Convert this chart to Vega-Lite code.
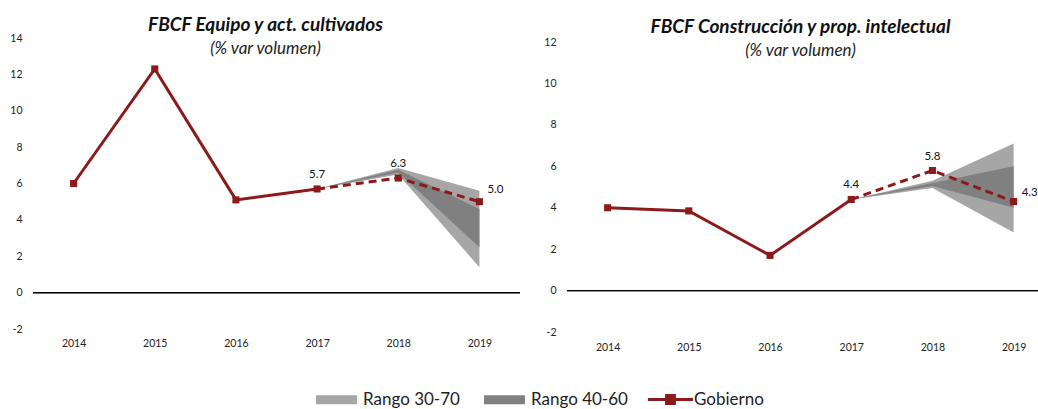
{
  "$schema": "https://vega.github.io/schema/vega-lite/v6.json",
  "background": "white",
  "padding": {"left": 9, "top": 16, "right": 0, "bottom": 0},
  "bounds": "flush",
  "spacing": 47,
  "config": {
    "view": {"stroke": null},
    "font": "Lato",
    "axis": {"labelFont": "Lato", "labelFontSize": 10.5, "labelColor": "#222222", "domain": false, "ticks": false, "grid": false, "title": null, "labelOverlap": false, "tickCount": 20}
  },
  "datasets": {
    "equipo": [
      {"year": 2014, "gob": 6.0, "lo30": null, "hi30": null, "lo40": null, "hi40": null},
      {"year": 2015, "gob": 12.3, "lo30": null, "hi30": null, "lo40": null, "hi40": null},
      {"year": 2016, "gob": 5.1, "lo30": null, "hi30": null, "lo40": null, "hi40": null},
      {"year": 2017, "gob": 5.7, "lo30": 5.7, "hi30": 5.7, "lo40": 5.7, "hi40": 5.7},
      {"year": 2018, "gob": 6.3, "lo30": 6.5, "hi30": 6.85, "lo40": 6.6, "hi40": 6.75},
      {"year": 2019, "gob": 5.0, "lo30": 1.4, "hi30": 5.6, "lo40": 2.5, "hi40": 4.6}
    ],
    "construccion": [
      {"year": 2014, "gob": 4.0, "lo30": null, "hi30": null, "lo40": null, "hi40": null},
      {"year": 2015, "gob": 3.85, "lo30": null, "hi30": null, "lo40": null, "hi40": null},
      {"year": 2016, "gob": 1.7, "lo30": null, "hi30": null, "lo40": null, "hi40": null},
      {"year": 2017, "gob": 4.4, "lo30": 4.4, "hi30": 4.4, "lo40": 4.4, "hi40": 4.4},
      {"year": 2018, "gob": 5.8, "lo30": 4.95, "hi30": 5.3, "lo40": 5.05, "hi40": 5.2},
      {"year": 2019, "gob": 4.3, "lo30": 2.8, "hi30": 7.1, "lo40": 4.0, "hi40": 6.0}
    ]
  },
  "hconcat": [
    {
      "width": 487,
      "height": 291,
      "title": {"text": "FBCF Equipo y act. cultivados", "subtitle": "(% var volumen)", "font": "Lato", "fontSize": 19, "fontStyle": "italic", "fontWeight": "bold", "color": "#111111", "subtitleFont": "Lato", "subtitleFontSize": 17, "subtitleFontStyle": "italic", "subtitleColor": "#222222", "subtitlePadding": 6, "anchor": "middle", "frame": "group", "dx": -11, "offset": -24},
      "data": {"name": "equipo"},
      "encoding": {
        "x": {"field": "year", "type": "quantitative", "scale": {"domain": [2013.5, 2019.5], "nice": false, "zero": false}, "axis": {"values": [2014, 2015, 2016, 2017, 2018, 2019], "format": "d", "labelFlush": false, "labelPadding": 9, "tickCount": 20}}
      },
      "layer": [
        {"transform": [{"filter": "datum.year >= 2017"}], "mark": {"type": "area", "opacity": 1}, "encoding": {"y": {"field": "lo30", "type": "quantitative", "scale": {"domain": [-2, 14], "nice": false}, "axis": {"values": [-2, 0, 2, 4, 6, 8, 10, 12, 14], "labelExpr": "format(datum.value, 'd') === '−2' ? '-2' : replace(datum.label, '−', '-')", "tickCount": 20, "labelOverlap": false, "labelPadding": 11}}, "y2": {"field": "hi30"}, "fill": {"datum": "Rango 30-70", "scale": {"domain": ["Rango 30-70", "Rango 40-60"], "range": ["#a6a6a6", "#808080"]}, "legend": {"orient": "none", "legendX": 281, "legendY": 339, "direction": "horizontal", "title": null, "symbolType": "M-0.91,-0.2H0.91V0.2H-0.91Z", "symbolSize": 2025, "symbolStrokeWidth": 0, "symbolOpacity": 1, "labelFont": "Lato", "labelFontSize": 17, "labelColor": "#222222", "labelOffset": 4, "columnPadding": 22}}}},
        {"transform": [{"filter": "datum.year >= 2017"}], "mark": {"type": "area", "opacity": 1}, "encoding": {"y": {"field": "lo40", "type": "quantitative"}, "y2": {"field": "hi40"}, "fill": {"datum": "Rango 40-60"}}},
        {"mark": {"type": "rule", "color": "#000000", "strokeWidth": 1}, "encoding": {"y": {"datum": 0, "type": "quantitative"}, "x": {"value": 0}, "x2": {"value": 487}}},
        {"transform": [{"filter": "datum.year <= 2017"}], "mark": {"type": "line", "strokeWidth": 3}, "encoding": {"y": {"field": "gob", "type": "quantitative"}, "stroke": {"datum": "Gobierno", "scale": {"domain": ["Gobierno"], "range": ["#8c1a1a"]}, "legend": {"orient": "none", "legendX": 615, "legendY": 339, "title": null, "symbolType": "M-1,-0.07H1V0.07H-1Z M-0.24,-0.24H0.24V0.24H-0.24Z", "symbolSize": 2025, "symbolStrokeWidth": 0, "symbolFillColor": "#8c1a1a", "labelFont": "Lato", "labelFontSize": 17, "labelColor": "#222222", "labelOffset": 1, "encode": {"symbols": {"update": {"fill": {"value": "#8c1a1a"}, "strokeWidth": {"value": 0}}}}}}}},
        {"transform": [{"filter": "datum.year >= 2017"}], "mark": {"type": "line", "strokeWidth": 3, "strokeDash": [8, 5]}, "encoding": {"y": {"field": "gob", "type": "quantitative"}, "stroke": {"datum": "Gobierno"}}},
        {"mark": {"type": "square", "size": 50, "color": "#8c1a1a", "opacity": 1, "filled": true}, "encoding": {"y": {"field": "gob", "type": "quantitative"}}},
        {"transform": [{"filter": "datum.year >= 2017 && datum.year < 2019"}], "mark": {"type": "text", "dy": -14, "fontSize": 11.5, "font": "Lato", "color": "#111111"}, "encoding": {"y": {"field": "gob", "type": "quantitative"}, "text": {"field": "gob", "format": ".1f"}}},
        {"transform": [{"filter": "datum.year == 2019"}], "mark": {"type": "text", "dx": 8, "dy": -12, "align": "left", "fontSize": 11.5, "font": "Lato", "color": "#111111"}, "encoding": {"y": {"field": "gob", "type": "quantitative"}, "text": {"field": "gob", "format": ".1f"}}}
      ]
    },
    {
      "width": 471,
      "height": 294,
      "title": {"text": "FBCF Construcción y prop. intelectual", "subtitle": "(% var volumen)", "font": "Lato", "fontSize": 19, "fontStyle": "italic", "fontWeight": "bold", "color": "#111111", "subtitleFont": "Lato", "subtitleFontSize": 17, "subtitleFontStyle": "italic", "subtitleColor": "#222222", "subtitlePadding": 6, "anchor": "middle", "frame": "group", "dx": -2, "offset": -22},
      "data": {"name": "construccion"},
      "encoding": {
        "x": {"field": "year", "type": "quantitative", "scale": {"domain": [2013.5, 2019.3], "nice": false, "zero": false}, "axis": {"values": [2014, 2015, 2016, 2017, 2018, 2019], "format": "d", "labelFlush": false, "labelPadding": 10, "tickCount": 20}}
      },
      "layer": [
        {"transform": [{"filter": "datum.year >= 2017"}], "mark": {"type": "area", "opacity": 1}, "encoding": {"y": {"field": "lo30", "type": "quantitative", "scale": {"domain": [-2, 12.2], "nice": false}, "axis": {"values": [-2, 0, 2, 4, 6, 8, 10, 12], "labelExpr": "replace(datum.label, '−', '-')", "tickCount": 20, "labelOverlap": false, "labelPadding": 11}}, "y2": {"field": "hi30"}, "fill": {"datum": "Rango 30-70"}}},
        {"transform": [{"filter": "datum.year >= 2017"}], "mark": {"type": "area", "opacity": 1}, "encoding": {"y": {"field": "lo40", "type": "quantitative"}, "y2": {"field": "hi40"}, "fill": {"datum": "Rango 40-60"}}},
        {"mark": {"type": "rule", "color": "#000000", "strokeWidth": 1}, "encoding": {"y": {"datum": 0, "type": "quantitative"}, "x": {"value": 0}, "x2": {"value": 471}}},
        {"transform": [{"filter": "datum.year <= 2017"}], "mark": {"type": "line", "strokeWidth": 3}, "encoding": {"y": {"field": "gob", "type": "quantitative"}, "stroke": {"datum": "Gobierno"}}},
        {"transform": [{"filter": "datum.year >= 2017"}], "mark": {"type": "line", "strokeWidth": 3, "strokeDash": [8, 5]}, "encoding": {"y": {"field": "gob", "type": "quantitative"}, "stroke": {"datum": "Gobierno"}}},
        {"mark": {"type": "square", "size": 50, "color": "#8c1a1a", "opacity": 1, "filled": true}, "encoding": {"y": {"field": "gob", "type": "quantitative"}}},
        {"transform": [{"filter": "datum.year >= 2017 && datum.year < 2019"}], "mark": {"type": "text", "dy": -14, "fontSize": 11.5, "font": "Lato", "color": "#111111"}, "encoding": {"y": {"field": "gob", "type": "quantitative"}, "text": {"field": "gob", "format": ".1f"}}},
        {"transform": [{"filter": "datum.year == 2019"}], "mark": {"type": "text", "dx": 8, "dy": -9, "align": "left", "fontSize": 11.5, "font": "Lato", "color": "#111111"}, "encoding": {"y": {"field": "gob", "type": "quantitative"}, "text": {"field": "gob", "format": ".1f"}}}
      ]
    }
  ],
  "resolve": {"scale": {"fill": "shared", "stroke": "shared"}, "legend": {"fill": "shared", "stroke": "shared"}}
}
